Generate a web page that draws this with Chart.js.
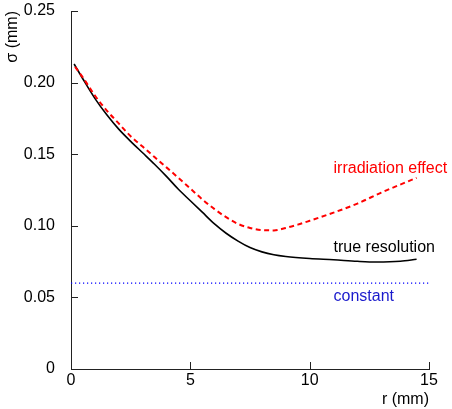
<!DOCTYPE html>
<html><head><meta charset="utf-8">
<script src="https://cdn.jsdelivr.net/npm/chart.js@4"></script>
<style>html,body{margin:0;padding:0;background:#fff}#wrap{width:452px;height:409px}</style>
</head><body><div id="wrap"><canvas id="c" width="452" height="409"></canvas></div>
<script>
// true resolution (black solid)
const trueR     = [0.13, 0.5, 1.0, 1.5, 2.0, 2.5, 3.0, 3.5, 4.0, 4.5, 5.0, 5.5, 6.0, 6.5, 7.0, 7.5, 8.0, 8.5, 9.0, 10.0, 11.0, 12.0, 12.8, 13.8, 14.48];
const trueSigma = [0.213, 0.2025, 0.189, 0.1775, 0.1675, 0.159, 0.151, 0.143, 0.1345, 0.1255, 0.1175, 0.1095, 0.1015, 0.0948, 0.0893, 0.0848, 0.0818, 0.0798, 0.0786, 0.0772, 0.0763, 0.0752, 0.0747, 0.0752, 0.0766];
// irradiation effect (red dashed)
const irrR     = [0.17, 0.5, 1.0, 1.5, 2.0, 2.5, 3.0, 3.5, 4.0, 4.5, 5.0, 5.5, 6.0, 6.5, 7.0, 7.5, 8.0, 8.5, 9.0, 9.5, 10.0, 11.0, 12.0, 13.0, 14.0, 14.48];
const irrSigma = [0.211, 0.2035, 0.191, 0.1805, 0.1715, 0.1625, 0.1553, 0.148, 0.1408, 0.1335, 0.126, 0.1185, 0.1118, 0.106, 0.1013, 0.0985, 0.097, 0.0968, 0.0985, 0.1008, 0.1035, 0.1092, 0.1155, 0.1232, 0.1302, 0.1335];
// constant (blue dotted)
const constR     = [0, 15];
const constSigma = [0.06, 0.06];
// ticks
const xTickValues = [0, 5, 10, 15];
const yTickValues = [0, 0.05, 0.10, 0.15, 0.20, 0.25];
// curve labels
const labelTexts  = ['irradiation effect', 'true resolution', 'constant'];
const labelR      = [11, 11, 11];
const labelSigma  = [0.14, 0.085, 0.0505];
const labelColors = ['#ff0000', '#000000', '#1a1acc'];

const toPts = (xs, ys) => xs.map((x, i) => ({x, y: ys[i]}));
const FONT = "'Liberation Sans', Arial, Helvetica, sans-serif";

const innerTicks = {
  id: 'innerTicks',
  afterDraw(chart) {
    const {ctx, chartArea: a, scales: {x, y}} = chart;
    ctx.save();
    ctx.strokeStyle = '#222';
    ctx.lineWidth = 1;
    ctx.beginPath();
    yTickValues.forEach(v => { const p = Math.round(y.getPixelForValue(v)) + 0.5; ctx.moveTo(a.left, p); ctx.lineTo(a.left + 7, p); });
    xTickValues.forEach(v => { const p = Math.round(x.getPixelForValue(v)) + 0.5; ctx.moveTo(p, a.bottom); ctx.lineTo(p, a.bottom - 7); });
    ctx.stroke();
    ctx.font = '16px ' + FONT;
    ctx.textBaseline = 'middle';
    ctx.textAlign = 'left';
    labelTexts.forEach((t, i) => {
      ctx.fillStyle = labelColors[i];
      ctx.fillText(t, x.getPixelForValue(labelR[i]), y.getPixelForValue(labelSigma[i]));
    });
    ctx.restore();
  }
};

new Chart(document.getElementById('c'), {
  type: 'scatter',
  data: {
    datasets: [
      { label: 'constant', data: toPts(constR, constSigma), showLine: true, borderColor: '#0000ff', borderWidth: 1.3, borderDash: [1.2, 2.8], pointRadius: 0, fill: false },
      { label: 'irradiation effect', data: toPts(irrR, irrSigma), showLine: true, borderColor: '#ff0000', borderWidth: 2, borderDash: [5, 3.5], pointRadius: 0, cubicInterpolationMode: 'monotone', fill: false },
      { label: 'true resolution', data: toPts(trueR, trueSigma), showLine: true, borderColor: '#000000', borderWidth: 1.6, pointRadius: 0, cubicInterpolationMode: 'monotone', fill: false }
    ]
  },
  options: {
    responsive: false,
    animation: false,
    devicePixelRatio: 1,
    layout: { padding: { left: 0, top: 11, right: 23, bottom: 0 } },
    plugins: { legend: { display: false }, tooltip: { enabled: false } },
    scales: {
      x: {
        type: 'linear', min: 0, max: 15,
        afterBuildTicks: s => { s.ticks = xTickValues.map(v => ({value: v})); },
        afterFit: s => { s.height = 40; s.paddingLeft = 0; s.paddingRight = 0; },
        grid: { display: false, drawTicks: false },
        border: { display: true, color: '#222', width: 1 },
        ticks: { padding: 2, color: '#000', font: { size: 16, family: FONT }, callback: v => String(v) },
        title: { display: true, text: 'r (mm)', align: 'end', color: '#000', font: { size: 16, family: FONT }, padding: { top: 0, bottom: 0 } }
      },
      y: {
        type: 'linear', min: 0, max: 0.25,
        afterBuildTicks: s => { s.ticks = yTickValues.map(v => ({value: v})); },
        afterFit: s => { s.width = 71; s.paddingTop = 0; s.paddingBottom = 0; },
        grid: { display: false, drawTicks: false },
        border: { display: true, color: '#222', width: 1 },
        ticks: { padding: 16, color: '#000', font: { size: 16, family: FONT }, callback: v => v === 0 ? '0' : v.toFixed(2) },
        title: { display: true, text: 'σ (mm)', align: 'end', color: '#000', font: { size: 16, family: FONT }, padding: { top: 3, bottom: 0 } }
      }
    }
  },
  plugins: [innerTicks]
});
</script></body></html>
